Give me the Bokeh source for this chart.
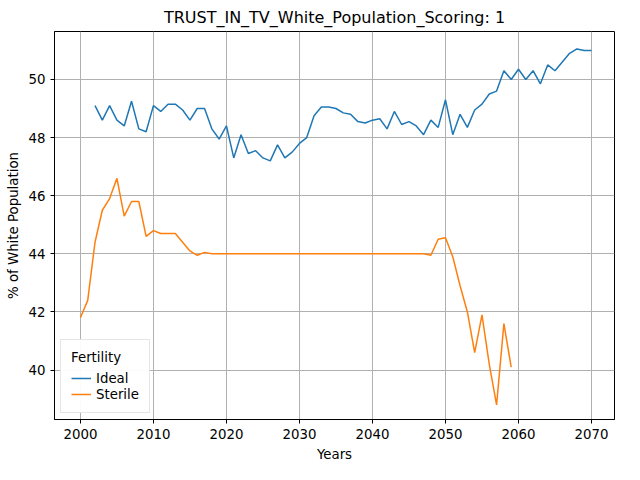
from bokeh.plotting import figure
from bokeh.models import Legend, Range1d, FixedTicker
from bokeh.embed import file_html
from bokeh.resources import INLINE

ideal_years = list(range(2002, 2071))
ideal_vals = [49.1, 48.6, 49.1, 48.6, 48.4, 49.25, 48.3, 48.2, 49.1, 48.9,
              49.15, 49.15, 48.95, 48.6, 49.0, 49.0, 48.3, 47.95, 48.4, 47.3,
              48.1, 47.45, 47.55, 47.3, 47.2, 47.75, 47.3, 47.5, 47.8, 48.0,
              48.75, 49.05, 49.05, 49.0, 48.85, 48.8, 48.55, 48.5, 48.6, 48.65,
              48.3, 48.9, 48.45, 48.55, 48.4, 48.1, 48.6, 48.35, 49.3, 48.1,
              48.8, 48.35, 48.95, 49.15, 49.5, 49.6, 50.3, 50.0, 50.35, 50.0,
              50.3, 49.85, 50.5, 50.3, 50.6, 50.9, 51.05, 51.0, 51.0]

sterile_years = list(range(2000, 2060))
sterile_vals = [41.8, 42.4, 44.4, 45.5, 45.9, 46.6, 45.3, 45.8, 45.8, 44.6,
                44.8, 44.7, 44.7, 44.7, 44.4, 44.1, 43.95, 44.05, 44.0, 44.0,
                44.0, 44.0, 44.0, 44.0, 44.0, 44.0, 44.0, 44.0, 44.0, 44.0,
                44.0, 44.0, 44.0, 44.0, 44.0, 44.0, 44.0, 44.0, 44.0, 44.0,
                44.0, 44.0, 44.0, 44.0, 44.0, 44.0, 44.0, 44.0, 43.95, 44.5,
                44.55, 43.9, 42.9, 42.0, 40.6, 41.9, 40.2, 38.8, 41.6, 40.1]

p = figure(width=624, height=464, output_backend="svg", toolbar_location=None,
           title="TRUST_IN_TV_White_Population_Scoring: 1",
           x_axis_label="Years", y_axis_label="% of White Population",
           x_range=Range1d(1996.45, 2073.15), y_range=Range1d(38.3, 51.65),
           min_border_left=54, min_border_right=10, min_border_top=14, min_border_bottom=40)
p.title.align = "center"
p.title.text_font = "DejaVu Sans"
p.title.text_font_size = "12pt"
p.title.text_font_style = "normal"
p.title.text_color = "black"
p.outline_line_color = "black"
for ax in (p.xaxis, p.yaxis):
    ax.axis_label_text_font = "DejaVu Sans"
    ax.axis_label_text_font_style = "normal"
    ax.axis_label_text_font_size = "10pt"
    ax.axis_label_text_color = "black"
    ax.major_label_text_font = "DejaVu Sans"
    ax.major_label_text_font_size = "10pt"
    ax.major_label_text_color = "black"
    ax.minor_tick_line_color = None
    ax.major_tick_in = 0
    ax.major_tick_out = 4
p.xaxis.ticker = FixedTicker(ticks=list(range(2000, 2071, 10)))
p.yaxis.ticker = FixedTicker(ticks=[40, 42, 44, 46, 48, 50])
p.grid.grid_line_color = "#b0b0b0"
p.grid.grid_line_alpha = 1.0

r1 = p.line(ideal_years, ideal_vals, line_color="#1f77b4", line_width=1.5)
r2 = p.line(sterile_years, sterile_vals, line_color="#ff7f0e", line_width=1.5)

legend = Legend(items=[("Ideal", [r1]), ("Sterile", [r2])], location="bottom_left",
                title="Fertility")
legend.title_text_font = "DejaVu Sans"
legend.title_text_font_size = "10pt"
legend.title_text_font_style = "normal"
legend.title_text_color = "black"
legend.label_text_font = "DejaVu Sans"
legend.label_text_font_size = "10pt"
legend.label_text_color = "black"
legend.border_line_color = "#cccccc"
legend.spacing = 0
legend.glyph_height = 16
legend.label_height = 16
legend.margin = 6
p.add_layout(legend)

open("out.html", "w").write(file_html(p, INLINE))
